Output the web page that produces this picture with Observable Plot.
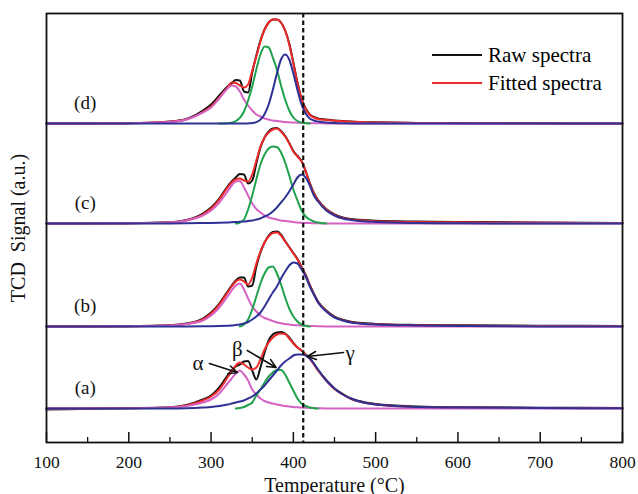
<!DOCTYPE html>
<html>
<head>
<meta charset="utf-8">
<script src="https://cdn.jsdelivr.net/npm/d3@7"></script>
<script src="https://cdn.jsdelivr.net/npm/@observablehq/plot@0.6"></script>
<style>
  body { margin: 0; background: #fff; }
  #wrap { position: relative; width: 638px; height: 494px; overflow: hidden; }
  g[aria-label="x-axis tick label"] text { font-size: 17.5px; }
  g[aria-label="x-axis label"] text { font-size: 20px; }
  #legend { position: absolute; left: 432px; top: 41px; font-family: "Liberation Serif", serif; font-size: 21px; color: #000; }
  #legend .row { display: flex; align-items: center; height: 28px; }
  #legend .sw { width: 50px; height: 2.5px; margin-right: 6px; }
</style>
</head>
<body>
<div id="wrap"></div>
<script>
// Temperature grid (°C)
const temperature = [100, 200, 250, 270, 290, 300, 310, 320, 325, 330,
  335, 340, 345, 350, 355, 360, 365, 370, 375, 380,
  385, 390, 395, 400, 405, 410, 415, 420, 425, 430,
  440, 450, 460, 470, 480, 500, 550, 600, 700, 800];

const panels = ["(a)", "(b)", "(c)", "(d)"];
const panelOffset = [34, 116, 219, 319];
const seriesNames = ["Raw spectra", "Fitted spectra", "α", "β", "γ"];
const seriesColors = ["#111111", "#ee2b2b", "#d562c3", "#1fa24b", "#2f3194"];
const majorTicks = [100, 200, 300, 400, 500, 600, 700, 800];
const minorTicks = [150, 250, 350, 450, 550, 650, 750];
const dashedT = 412;
const greek = ["α", "β", "γ"];

// Panel (a)
const rawA = [-1, 0.3, 1.2, 3.5, 9, 13, 21, 33, 38, 42,
  44, 47, 47.5, 38, 29, 41, 56, 68, 74, 76,
  76.5, 75, 71, 65.5, 61, 58, 54, 50, 44.5, 38.5,
  28.5, 20, 14.5, 10, 7.5, 4.5, 2, 1.2, 0.8, 0.5];
const fitA = [0, 0.3, 1, 3, 8, 12, 19, 31, 37, 43,
  46, 44, 41, 39, 41, 49, 59, 66, 71, 74,
  75, 74.5, 70, 65, 61, 58, 54, 50, 44, 38,
  28, 19.5, 14, 9.5, 7, 4, 1.5, 1, 0.5, 0.3];
const alphaA = [0, 0.3, 1, 2.5, 6, 9, 15, 25, 30, 35,
  38, 34, 28, 19, 14, 10, 7.5, 6, 5, 4,
  3.2, 2.5, 2, 1.5, 1.2, 1, 0.7, 0.5, 0.4, 0.3,
  0.1, 0, 0, 0, 0, 0, 0, 0, 0, 0];
const betaA = [null, null, null, null, null, null, null, null, null, 0,
  0.5, 1.5, 3.5, 6, 13, 19, 26, 32, 36, 38.5,
  38.5, 34, 26, 18, 10, 5, 2.5, 1, 0.3, 0,
  null, null, null, null, null, null, null, null, null, null];
const gammaA = [0, 0, 0, 0.3, 1, 1.5, 2.5, 4, 5, 6,
  7, 8, 10, 12, 15, 19, 23, 28, 33, 38,
  43, 47, 50, 53, 54, 54, 53, 50, 45, 39,
  28, 20, 14, 10, 7, 4, 1.5, 1, 0.5, 0.3];

// Panel (b)
const rawB = [0, 0.3, 1.2, 3, 8, 14, 23, 35, 41, 46,
  49, 49, 40, 41, 60, 74, 84, 91, 94.5, 95,
  92, 85.5, 79.5, 73.5, 67.5, 59.5, 51.5, 41.5, 32.5, 25,
  16, 10, 6.8, 4.8, 3.7, 2.6, 1.6, 1.2, 0.8, 0.5];
const fitB = [0, 0.3, 1, 2.5, 7, 13, 22, 34, 40, 45,
  47, 45, 42, 49, 63, 75, 84, 90, 93.5, 94,
  91, 85, 79, 73, 67, 59, 51, 41, 32, 24.5,
  15.5, 9.5, 6.3, 4.3, 3.2, 2.2, 1.2, 0.8, 0.4, 0.3];
const alphaB = [0, 0.3, 1, 2.5, 6, 11, 19, 30, 36, 41,
  43, 37, 28, 20, 15, 11, 8.5, 7, 5.5, 4,
  3.2, 2.5, 2, 1.5, 1.2, 1, 0.7, 0.5, 0.4, 0.3,
  0.1, 0, 0, 0, 0, 0, 0, 0, 0, 0];
const betaB = [null, null, null, null, null, null, null, null, null, null,
  0, 2, 7, 17, 30, 43, 53, 59, 60, 53,
  42, 29, 18, 10, 5, 2, 0.5, 0, null, null,
  null, null, null, null, null, null, null, null, null, null];
const gammaB = [0, 0, 0, 0.1, 0.2, 0.3, 0.5, 0.8, 1, 1.5,
  2, 3, 4.5, 7, 10, 14, 20, 27, 34, 40,
  48, 55, 61, 64, 63, 57, 50, 40, 32, 24,
  15, 9, 6, 4, 3, 2, 1, 0.5, 0, 0];

// Panel (c)
const rawC = [0, 0.3, 1.2, 3.5, 10, 16, 25, 37, 42, 46,
  49.5, 49, 40, 43, 60, 76, 86, 92, 95, 95.5,
  92.5, 87.5, 80.5, 72.5, 67.5, 62.5, 52.5, 40.5, 30.5, 23.5,
  14.5, 9, 6, 4.5, 3.7, 2.7, 2, 1.6, 1, 0.5];
const fitC = [0, 0.3, 1, 3, 9, 15, 24, 36, 41, 44,
  45, 43, 42, 49, 63, 77, 86, 91, 94, 95,
  92, 87, 80, 72, 67, 62, 52, 40, 30, 23,
  14, 8.5, 5.5, 4, 3.2, 2.2, 1.5, 1.2, 0.7, 0.5];
const alphaC = [0, 0.3, 1, 3, 8, 13, 21, 32, 38, 42,
  42.5, 36, 28, 20, 14.5, 11, 8, 6, 5, 4,
  3, 2.5, 2, 1.5, 1, 0.7, 0.5, 0.4, 0.3, 0.2,
  0, 0, 0, 0, 0, 0, 0, 0, 0, 0];
const betaC = [null, null, null, null, null, null, null, null, null, 0,
  1, 4, 14, 28, 44, 59, 69, 75, 77, 76.5,
  71, 61, 48, 34, 23, 13, 7, 4, 2, 1,
  0, null, null, null, null, null, null, null, null, null];
const gammaC = [0, 0, 0.1, 0.2, 0.4, 0.5, 0.7, 1, 1.2, 1.5,
  1.8, 2, 2.5, 3, 4, 5, 7, 9, 12, 16,
  21, 26, 32, 39, 46, 49, 46, 38, 28, 22,
  13, 8, 5, 3.5, 2.5, 1.5, 0.5, 0.2, 0, 0];

// Panel (d)
const rawD = [0, 0.3, 2, 4.5, 13, 19, 28, 37, 40, 43.5,
  43, 32, 31, 51, 68, 83, 94, 101, 104, 104,
  101, 93, 80, 61, 41, 25, 15, 9, 6.5, 5,
  4, 3, 2.4, 2, 1.6, 1.2, 0.6, 0.4, 0.2, 0];
const fitD = [0, 0.3, 1.7, 4, 11.5, 17, 26, 36, 41, 40.5,
  38, 36, 39, 53, 67, 82, 94, 101, 104, 104,
  101, 93, 79, 60, 40, 24, 14, 8.5, 6, 4.5,
  3.5, 2.8, 2.2, 1.8, 1.4, 1, 0.5, 0.3, 0, 0];
const alphaD = [0, 0.3, 1.5, 4, 11, 16, 25, 35, 38, 37,
  32, 24, 18, 13, 9, 7, 5, 4, 3, 2.5,
  2, 1.5, 1.2, 1, 0.8, 0.6, 0.5, 0.4, 0.3, 0.2,
  0.1, 0, 0, 0, 0, 0, 0, 0, 0, 0];
const betaD = [null, null, null, null, null, null, 0, 0.3, 0.9, 2.4,
  5.7, 12, 23, 37, 54, 69, 77, 76, 66, 54,
  38, 24, 13, 6, 2.5, 1, 0.3, 0, null, null,
  null, null, null, null, null, null, null, null, null, null];
const gammaD = [0, 0, 0, 0, 0, 0, 0, 0, 0, 0,
  0, 0, 0.1, 0.4, 1.4, 3.9, 9.3, 19, 33.5, 50,
  64, 69, 64, 50, 33.5, 19, 10, 5, 3, 2,
  1, 0.5, 0.2, 0, 0, 0, 0, 0, 0, 0];

const panelSeries = [
  [rawA, fitA, alphaA, betaA, gammaA],
  [rawB, fitB, alphaB, betaB, gammaB],
  [rawC, fitC, alphaC, betaC, gammaC],
  [rawD, fitD, alphaD, betaD, gammaD]
];

// Long table built from the arrays
const rows = [];
panels.forEach((p, pi) => {
  panelSeries[pi].forEach((arr, si) => {
    arr.forEach((v, i) => {
      rows.push({
        panel: p,
        series: seriesNames[si],
        T: temperature[i],
        v: v == null ? NaN : v + panelOffset[pi]
      });
    });
  });
});

// Annotation layout for panel (a)
const aOff = panelOffset[0];
const greekLayout = [
  {t: greek[0], tx: 284, ty: 45, x1: 298, y1: 45, x2: 332, y2: 36},
  {t: greek[1], tx: 332, ty: 59, x1: 344, y1: 58, x2: 379, y2: 41},
  {t: greek[2], tx: 469, ty: 55, x1: 461, y1: 56, x2: 417, y2: 52}
].map(d => ({...d, ty: d.ty + aOff, y1: d.y1 + aOff, y2: d.y2 + aOff}));

const serif = "Liberation Serif";

const chart = Plot.plot({
  width: 638,
  height: 494,
  marginLeft: 46,
  marginRight: 16,
  marginTop: 13,
  marginBottom: 52,
  style: {fontFamily: "'Liberation Serif', 'Times New Roman', serif", fontSize: "17px", background: "#fff", color: "#111"},
  x: {domain: [100, 800]},
  y: {domain: [0, 429], axis: null},
  color: {domain: seriesNames, range: seriesColors},
  marks: [
    Plot.line(rows, {
      x: "T", y: "v", z: d => d.panel + d.series, stroke: "series",
      strokeWidth: 2, curve: "monotone-x"
    }),
    Plot.ruleX([dashedT], {stroke: "#111", strokeWidth: 2.2, strokeDasharray: "4.5,3"}),
    Plot.ruleX(majorTicks, {x: d => d, y1: 0, y2: 10, stroke: "#111", strokeWidth: 1.5}),
    Plot.ruleX(minorTicks, {x: d => d, y1: 0, y2: 5, stroke: "#111", strokeWidth: 1.3}),
    Plot.frame({stroke: "#111", strokeWidth: 1.8}),
    Plot.axisX({
      ticks: majorTicks, tickSize: 0, tickPadding: 13, tickFormat: d => String(d),
      label: "Temperature (°C)", labelAnchor: "center", labelArrow: "none", labelOffset: 49
    }),
    Plot.text(["TCD\u00a0 Signal (a.u.)"], {
      frameAnchor: "left", textAnchor: "middle", rotate: -90, dx: -28, fontSize: 20, fontFamily: serif
    }),
    Plot.text(panels, {
      x: 147, y: (d, i) => panelOffset[i] + 21, text: d => d,
      fontSize: 19, fontFamily: serif, fill: "#111"
    }),
    Plot.arrow(greekLayout, {
      x1: "x1", y1: "y1", x2: "x2", y2: "y2",
      stroke: "#111", strokeWidth: 1.6, headLength: 9, headAngle: 50
    }),
    Plot.text(greekLayout, {
      x: "tx", y: "ty", text: "t", fontSize: 21, fontFamily: serif, fill: "#111"
    })
  ]
});

const wrap = document.getElementById("wrap");
wrap.appendChild(chart);

const legend = document.createElement("div");
legend.id = "legend";
[0, 1].forEach(i => {
  const row = document.createElement("div");
  row.className = "row";
  const sw = document.createElement("div");
  sw.className = "sw";
  sw.style.background = seriesColors[i];
  const label = document.createElement("span");
  label.textContent = seriesNames[i];
  row.appendChild(sw);
  row.appendChild(label);
  legend.appendChild(row);
});
wrap.appendChild(legend);
</script>
</body>
</html>
